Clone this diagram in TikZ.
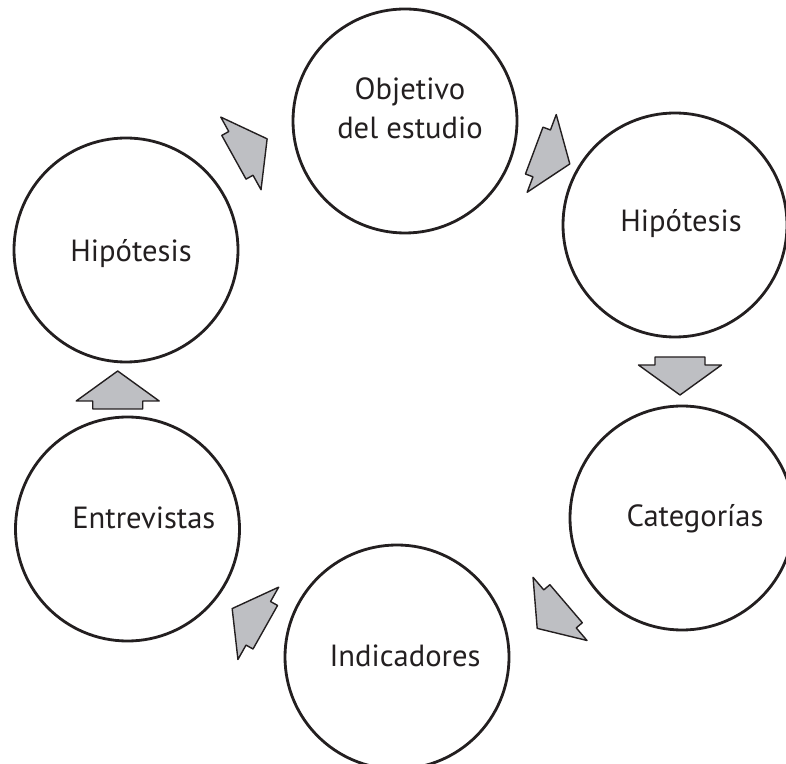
\documentclass[tikz,border=0pt]{standalone}
\usepackage{fontspec}
\setmainfont{PT Sans}
\definecolor{tinta}{RGB}{35,31,32}
\definecolor{gris}{RGB}{190,191,195}
\begin{document}
\begin{tikzpicture}[x=1pt, y=1pt, line join=round,
    circulo/.style={circle, draw=tinta, line width=2.8pt, minimum size=224pt, inner sep=0pt},
    texto/.style={anchor=base, text=tinta, font=\fontsize{30.6}{39}\selectfont, align=center},
    flecha/.style={draw=tinta, fill=gris, line width=1.4pt}]
    \useasboundingbox (0,0) rectangle (786,763);
    \node[circulo] (obj) at (405,642) {};
    \node[circulo] (hipd) at (675,538) {};
    \node[circulo] (cat) at (682,245) {};
    \node[circulo] (ind) at (397,106) {};
    \node[circulo] (ent) at (127.5,234) {};
    \node[circulo] (hipi) at (126,513) {};
    % el ancla base cae en la ultima linea
    \node[texto] at ([shift={(5,-17.3)}]obj) {Objetivo\\del estudio};
    \node[texto] at ([shift={(6,-6.7)}]hipd) {Hipótesis};
    \node[texto] at ([shift={(13,-8.7)}]cat) {Categorías};
    \node[texto] at ([shift={(8,-9.7)}]ind) {Indicadores};
    \node[texto] at ([shift={(16.3,0.7)}]ent) {Entrevistas};
    \node[texto] at ([shift={(5,-11.7)}]hipi) {Hipótesis};
    % flechas de bloque: x/y/giro
    \foreach \x/\y/\g in {240.9/609.6/29, 541.7/609.6/-20.5, 680/398/-90, 560/154.1/-139.5, 258.3/139.7/150.6, 117.7/362/90}
        \draw[flecha, shift={(\x,\y)}, rotate=\g] (-8,-25) -- (0,-25) -- (0,-41.5) -- (30,0) -- (0,41.5) -- (0,25) -- (-8,25) -- cycle;
\end{tikzpicture}
\end{document}
